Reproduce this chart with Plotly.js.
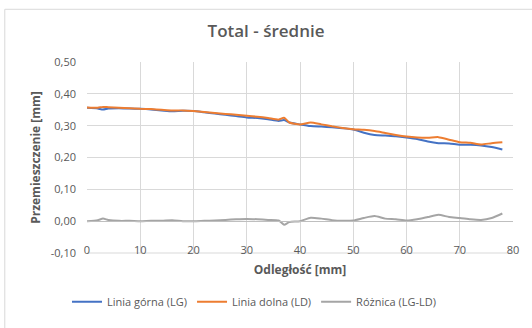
<!DOCTYPE html>
<html><head><meta charset="utf-8">
<script src="https://cdn.plot.ly/plotly-3.0.1.min.js"></script>
<style>html,body{margin:0;padding:0;background:#fff}#chart{width:532px;height:328px}</style>
</head><body><div id="chart"></div>
<script>
const distance = [0,2,3,4,6,8,10,12,14,16,18,20,22,24,26,28,30,32,34,36,37,38,40,42,44,46,48,50,52,54,56,58,60,62,64,66,68,70,72,74,76,78];
const liniaGorna = [0.356,0.354,0.351,0.354,0.355,0.354,0.353,0.351,0.348,0.345,0.347,0.346,0.342,0.338,0.334,0.330,0.326,0.324,0.320,0.315,0.318,0.310,0.304,0.299,0.297,0.295,0.292,0.288,0.278,0.271,0.269,0.267,0.263,0.258,0.250,0.245,0.244,0.240,0.240,0.238,0.233,0.225];
const liniaDolna = [0.357,0.356,0.359,0.358,0.356,0.355,0.353,0.352,0.350,0.348,0.348,0.346,0.343,0.340,0.337,0.334,0.331,0.328,0.324,0.319,0.325,0.310,0.304,0.310,0.304,0.298,0.293,0.289,0.287,0.283,0.277,0.271,0.266,0.263,0.262,0.264,0.256,0.248,0.246,0.241,0.245,0.248];
const roznica = [0.000,0.003,0.008,0.004,0.001,0.001,0.000,0.001,0.001,0.003,0.000,0.000,0.001,0.002,0.004,0.006,0.007,0.006,0.004,0.002,-0.011,-0.003,0.000,0.011,0.008,0.003,0.001,0.002,0.010,0.016,0.008,0.006,0.002,0.006,0.013,0.020,0.013,0.010,0.006,0.004,0.010,0.024];
const seriesNames = ['Linia górna (LG)','Linia dolna (LD)','Różnica (LG-LD)'];
const seriesColors = ['#4472C4','#ED7D31','#A5A5A5'];
const yTickVals = [-0.1,0,0.1,0.2,0.3,0.4,0.5];
const yTickText = ['-0,10','0,00','0,10','0,20','0,30','0,40','0,50'];

const FONT = 'Open Sans, Liberation Sans, sans-serif';
const traces = [liniaGorna, liniaDolna, roznica].map((ys,i)=>({
  x: distance, y: ys, type:'scatter', mode:'lines', name: seriesNames[i],
  line:{color: seriesColors[i], width:2, shape:'spline', smoothing:0.6}
}));

const layout = {
  width:532, height:328,
  margin:{l:87, r:19, t:62, b:67},
  paper_bgcolor:'#fff', plot_bgcolor:'#fff',
  separators:', ',
  font:{family:FONT, color:'#595959', size:11},
  title:{text:'Total - średnie', x:0.5, xanchor:'center', y:0.905, yanchor:'middle', font:{family:FONT, size:17, color:'#595959', weight:600}},
  xaxis:{range:[0,80], dtick:10, tick0:0, tickformat:'d', showgrid:true, gridcolor:'#d9d9d9', gridwidth:1,
    zeroline:false, showline:true, linecolor:'#bfbfbf', linewidth:1, anchor:'free', position:1/6,
    ticks:'', ticklabelstandoff:19, tickfont:{family:FONT, size:11, color:'#595959'},
    title:{text:'Odległość [mm]', standoff:9, font:{family:FONT, size:12, color:'#595959', weight:'bold'}}},
  yaxis:{range:[-0.1,0.5], tickmode:'array', tickvals:yTickVals, ticktext:yTickText, showgrid:true, gridcolor:'#d9d9d9', gridwidth:1,
    zeroline:false, showline:false, ticks:'', ticklabelstandoff:10, tickfont:{family:FONT, size:11, color:'#595959'},
    title:{text:'Przemieszczenie [mm]', standoff:7, font:{family:FONT, size:12, color:'#595959', weight:'bold'}}},
  showlegend:true,
  legend:{orientation:'h', x:0.392, xanchor:'center', y:-0.255, yanchor:'middle', font:{family:FONT, size:11, color:'#595959'},
    itemwidth:30, tracegroupgap:0, bgcolor:'rgba(0,0,0,0)'},
  shapes:[
    {type:'rect', xref:'paper', yref:'paper', x0:-0.193, x1:1.2, y0:-0.6, y1:1.276, line:{color:'#d9d9d9', width:1}, fillcolor:'rgba(0,0,0,0)', layer:'below'},
    {type:'line', xref:'paper', yref:'paper', x0:0, x1:1, y0:0, y1:0, line:{color:'#d9d9d9', width:1}, layer:'below'}
  ]
};
Plotly.newPlot('chart', traces, layout, {displayModeBar:false, staticPlot:true});
</script></body></html>
